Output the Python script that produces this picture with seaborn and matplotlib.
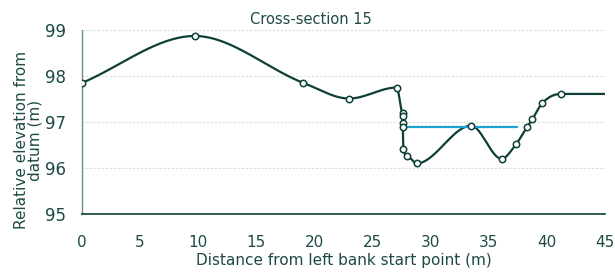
import numpy as np
import matplotlib
matplotlib.use("Agg")
import matplotlib.pyplot as plt
import seaborn as sns
import pandas as pd

# ---- data ----
distance = [0, 9.7, 19.05, 23.0, 27.08, 27.6, 27.6, 27.6, 27.6, 27.65, 28.0, 28.8,
            33.48, 36.1, 37.35, 38.3, 38.75, 39.6, 41.2, 48.0]
elevation = [97.85, 98.87, 97.85, 97.51, 97.75, 97.19, 97.13, 96.97, 96.9, 96.41, 96.26, 96.10,
             96.92, 96.20, 96.52, 96.89, 97.06, 97.41, 97.61, 97.61]
water_x = [27.6, 37.4]
water_y = [96.89, 96.89]
x_ticks = [0, 5, 10, 15, 20, 25, 30, 35, 40, 45]
y_ticks = [95, 96, 97, 98, 99]
title = "Cross-section 15"
xlabel = "Distance from left bank start point (m)"
ylabel = "Relative elevation from\ndatum (m)"

LINE = "#0d3f38"
TEXT = "#1d4a44"
GRID = "#cde6d2"
WATER = "#1ea3d6"

sns.set_style("white")
plt.rcParams["font.family"] = ["DejaVu Sans"]

fig = plt.figure(figsize=(6.15, 2.73), dpi=100)
ax = fig.add_axes([82 / 615, 1 - 214 / 273, (605 - 82) / 615, (214 - 30) / 273])

# monotone cubic (Fritsch-Carlson) smoothing of the profile
x = np.array(distance, float)
y = np.array(elevation, float)
n = len(x)
dk = np.zeros(n - 1)
for i in range(n - 1):
    dx = x[i + 1] - x[i]
    dk[i] = (y[i + 1] - y[i]) / dx if dx != 0 else 0.0
mk = np.zeros(n)
for i in range(n):
    if i == 0:
        mk[i] = dk[0]
    elif i == n - 1:
        mk[i] = dk[-1]
    elif np.sign(dk[i - 1]) != np.sign(dk[i]):
        mk[i] = 0.0
    else:
        mk[i] = (dk[i - 1] + dk[i]) / 2
for i in range(n - 1):
    if abs(dk[i]) < 1e-12:
        mk[i] = mk[i + 1] = 0.0
        continue
    a = mk[i] / dk[i]
    b = mk[i + 1] / dk[i]
    sq = a * a + b * b
    if sq <= 9:
        continue
    tau = 3 / np.sqrt(sq)
    mk[i] = a * tau * dk[i]
    mk[i + 1] = b * tau * dk[i]
t = np.linspace(0, 1, 40)
cx, cy = [], []
for i in range(n - 1):
    d = (x[i + 1] - x[i]) / 3
    px = [x[i], x[i] + d, x[i + 1] - d, x[i + 1]]
    py = [y[i], y[i] + d * mk[i], y[i + 1] - d * mk[i + 1], y[i + 1]]
    bx = (1 - t) ** 3 * px[0] + 3 * (1 - t) ** 2 * t * px[1] + 3 * (1 - t) * t ** 2 * px[2] + t ** 3 * px[3]
    by = (1 - t) ** 3 * py[0] + 3 * (1 - t) ** 2 * t * py[1] + 3 * (1 - t) * t ** 2 * py[2] + t ** 3 * py[3]
    s = 0 if i == 0 else 1
    cx.extend(bx[s:])
    cy.extend(by[s:])
curve_df = pd.DataFrame({"x": cx, "y": cy})

for yv in [96, 97, 98, 99]:
    ax.axhline(yv, color=GRID, lw=0.8, ls=(0, (2, 1.5)), zorder=0)

sns.lineplot(data=curve_df, x="x", y="y", sort=False, estimator=None, color=LINE, lw=1.6, ax=ax, zorder=3)
sns.lineplot(x=water_x, y=water_y, color=WATER, lw=1.6, ax=ax, zorder=4)
ax.plot(distance, elevation, ls="none", marker="o", ms=4.6, mfc="white", mec=LINE, mew=1.1, zorder=5)

ax.set_xlim(0, 45)
ax.set_ylim(95, 99)
ax.set_xticks(x_ticks)
ax.set_yticks(y_ticks)
ax.tick_params(axis="x", direction="out", length=5, width=1, color=LINE, labelsize=11, labelcolor=TEXT, pad=10)
ax.tick_params(axis="y", direction="out", length=4.5, width=1, color="#6e8f8a", labelsize=12, labelcolor=TEXT, pad=7)
for s in ["top", "right"]:
    ax.spines[s].set_visible(False)
ax.spines["left"].set_color("#6e8f8a")
ax.spines["left"].set_linewidth(1)
ax.spines["bottom"].set_color(LINE)
ax.spines["bottom"].set_linewidth(1.2)

ax.set_xlabel(xlabel, fontsize=11, color=TEXT, labelpad=2)
ax.set_ylabel(ylabel, fontsize=11, color=TEXT, linespacing=0.95)
ax.yaxis.set_label_coords((43 - 82) / 523, (214 - 140) / 184)
fig.text(0.506, 0.930, title, ha="center", va="center", fontsize=10.5, color=TEXT)

fig.savefig("out.png", dpi=100)
